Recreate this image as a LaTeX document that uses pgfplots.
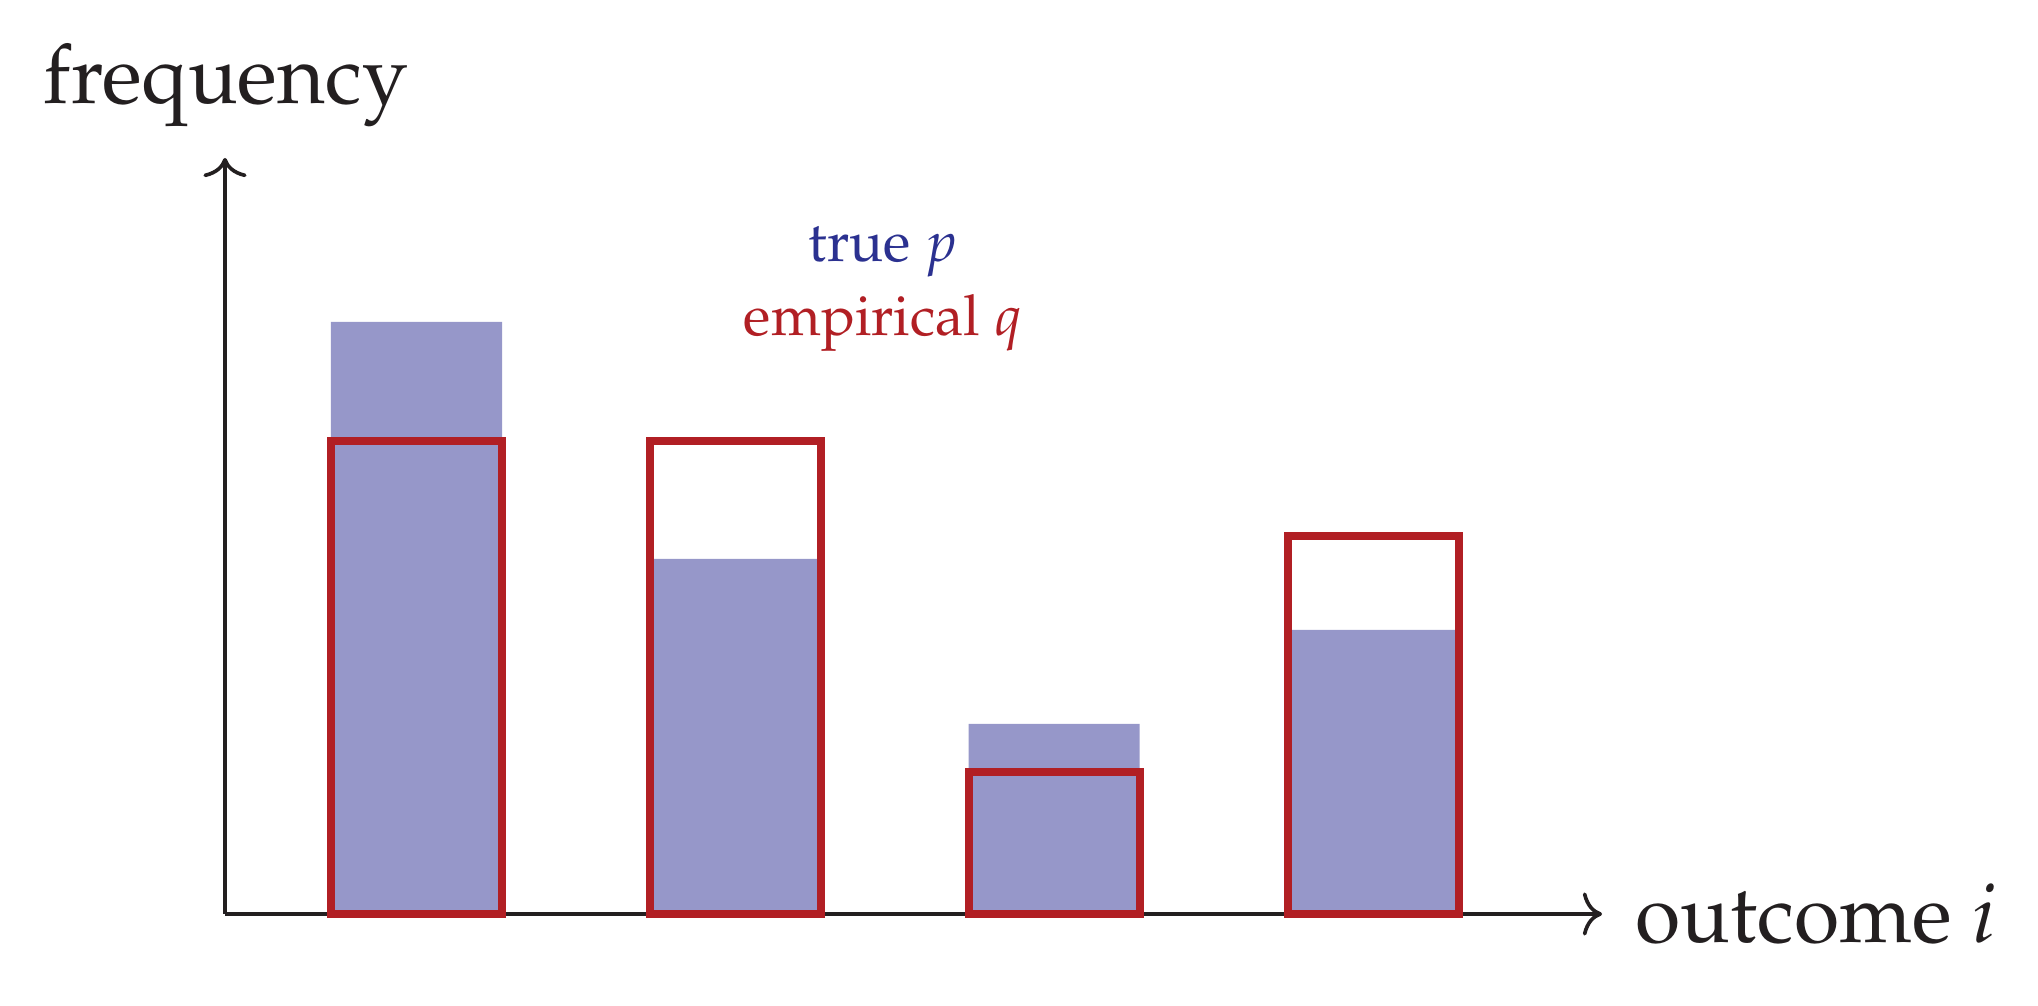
\documentclass[border=0pt]{standalone}
\usepackage[T1]{fontenc}
\usepackage{mathpazo}
\usepackage{pgfplots}
\usetikzlibrary{arrows.meta}
\pgfplotsset{compat=1.18}
\definecolor{barblue}{HTML}{9697C9}
\definecolor{barred}{HTML}{B11F24}
\definecolor{txtblue}{HTML}{2B3190}
\definecolor{axblack}{HTML}{231F20}
\begin{document}
\begin{tikzpicture}
\begin{axis}[
  x=0.25bp, y=0.25bp,
  xmin=0, xmax=1377, ymin=0, ymax=756,
  axis lines=left,
  axis line style={axblack, line width=0.92bp},
  every outer x axis line/.append style={-{To[length=4.8bp,width=10.8bp]}},
  every outer y axis line/.append style={-{To[length=4.8bp,width=10.8bp]}},
  every inner x axis line/.append style={-{To[length=4.8bp,width=10.8bp]}},
  every inner y axis line/.append style={-{To[length=4.8bp,width=10.8bp]}},
  xtick=\empty, ytick=\empty,
  clip=false,
]
\addplot[ybar, bar width=171, bar shift=0pt, fill=barblue, draw=none]
  coordinates {(191.5,592) (510,355) (829,190) (1148,284)};
\addplot[ybar, bar width=171, bar shift=0pt, fill=none, draw=barred, line width=2bp]
  coordinates {(191.5,473) (510,473) (829,142) (1148,378)};
\path (axis cs:-225,-92) rectangle (axis cs:1813,914);
\node[anchor=base west, inner sep=0pt, text=axblack, font=\fontsize{20.7}{24}\selectfont] at (axis cs:-182,810) {frequency};
\node[anchor=base west, inner sep=0pt, text=axblack, font=\fontsize{20.7}{24}\selectfont] at (axis cs:1410,-28) {outcome $i$};
\node[anchor=base, inner sep=0pt, text=txtblue, font=\fontsize{14.2}{17}\selectfont] at (axis cs:658,652) {true $p$};
\node[anchor=base, inner sep=0pt, text=barred, font=\fontsize{14.2}{17}\selectfont] at (axis cs:658,578) {empirical $q$};
\end{axis}
\end{tikzpicture}
\end{document}
